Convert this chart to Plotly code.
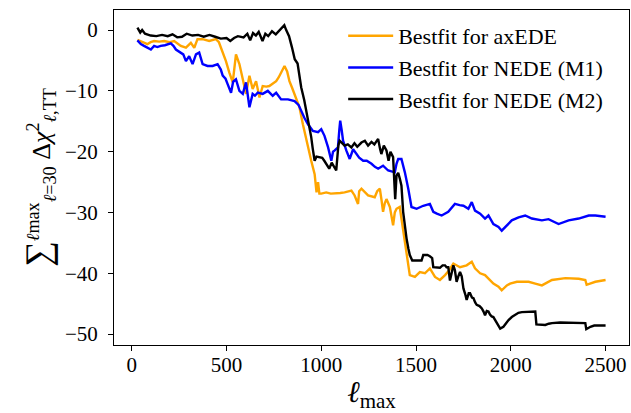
import plotly.graph_objects as go

# ---- data ----
l_m2 = [30, 45, 55, 70, 100, 130, 160, 190, 215, 240, 265, 290, 320, 350, 380, 410, 440, 470, 500, 520,
        540, 560, 590, 610, 625, 640, 655, 670, 690, 705, 720, 740, 760, 780, 795, 805, 815, 830, 845, 860,
        875, 894, 910, 921, 935, 947, 955, 965, 975, 990, 1005, 1016, 1030, 1042, 1055, 1063, 1079, 1090, 1097, 1110,
        1123, 1140, 1159, 1175, 1190, 1212, 1230, 1247, 1265, 1280, 1300, 1310, 1317, 1330, 1344, 1355, 1365, 1379, 1385, 1390,
        1397, 1406, 1415, 1423, 1432, 1441, 1450, 1460, 1467, 1480, 1494, 1515, 1529, 1538, 1560, 1573, 1585, 1591, 1610, 1626,
        1640, 1653, 1661, 1670, 1679, 1690, 1697, 1705, 1714, 1723, 1732, 1741, 1750, 1760, 1767, 1778, 1785, 1795, 1803, 1812,
        1820, 1835, 1847, 1856, 1864, 1873, 1882, 1890, 1899, 1908, 1917, 1930, 1944, 1961, 1975, 1988, 2005, 2023, 2040, 2058,
        2090, 2129, 2135, 2160, 2182, 2200, 2217, 2260, 2305, 2350, 2393, 2398, 2420, 2440, 2500]
chi_m2 = [0.4, -0.4, 0.0, -0.6, -0.9, -1.0, -0.8, -1.0, -0.7, -1.2, -1.1, -0.6, -0.9, -0.8, -1.1, -0.8, -1.1, -1.4, -1.3, -1.8,
          -1.3, -1.0, -1.2, -0.6, -1.7, -0.5, -0.9, -0.3, -1.8, -0.6, -1.0, -0.2, -0.7, 0.0, 0.5, 0.8, 0.0, -1.0, -2.8, -4.8,
          -5.5, -9.4, -11.5, -13.3, -15.5, -17.6, -19.5, -21.5, -20.8, -20.9, -21.0, -21.5, -22.3, -22.8, -21.8, -22.3, -23.1, -19.0, -18.2, -18.6,
          -19.0, -18.8, -19.3, -18.6, -19.2, -18.5, -18.2, -19.0, -18.4, -18.8, -17.9, -19.5, -20.4, -19.0, -19.8, -21.5, -20.0, -20.9, -25.0, -27.8,
          -23.9, -23.5, -24.5, -25.6, -29.9, -32.5, -34.3, -36.0, -37.0, -37.9, -37.9, -37.9, -37.9, -37.0, -37.0, -37.2, -37.5, -39.0, -39.1, -39.1,
          -38.7, -38.7, -39.0, -39.0, -41.2, -39.5, -38.7, -39.5, -41.4, -40.5, -39.8, -40.5, -42.5, -43.5, -44.4, -43.3, -43.3, -44.0, -44.1, -44.8,
          -45.2, -45.4, -45.8, -46.3, -46.9, -46.2, -46.3, -46.8, -47.1, -47.2, -47.7, -48.5, -49.1, -48.8, -48.2, -47.7, -47.2, -46.9, -46.5, -46.4,
          -46.3, -46.3, -48.4, -48.5, -48.5, -48.3, -48.2, -48.1, -48.1, -48.2, -48.2, -49.2, -48.8, -48.6, -48.6]

l_m1 = [30, 48, 65, 83, 101, 118, 135, 153, 175, 206, 220, 233, 259, 272, 286, 303, 321, 339, 356, 374,
        400, 427, 453, 470, 480, 495, 506, 524, 535, 550, 568, 586, 603, 621, 638, 650, 665, 691, 718, 744,
        762, 788, 824, 859, 880, 894, 912, 930, 956, 983, 1000, 1017, 1036, 1053, 1062, 1071, 1088, 1095, 1100, 1108,
        1115, 1132, 1150, 1168, 1185, 1200, 1221, 1240, 1265, 1283, 1300, 1326, 1353, 1388, 1397, 1406, 1423, 1441, 1459, 1476,
        1503, 1538, 1573, 1591, 1610, 1635, 1670, 1705, 1730, 1750, 1776, 1794, 1811, 1838, 1864, 1882, 1908, 1935, 1952, 1970,
        2005, 2041, 2076, 2111, 2164, 2199, 2252, 2305, 2358, 2411, 2446, 2500]
chi_m1 = [-1.7, -2.3, -2.6, -2.9, -3.2, -2.6, -2.8, -2.6, -2.5, -2.2, -2.6, -3.2, -3.7, -4.0, -5.1, -4.3, -5.6, -4.0, -3.7, -5.6,
          -5.9, -5.9, -5.6, -6.5, -7.5, -8.0, -8.9, -10.3, -8.5, -8.1, -10.0, -10.5, -8.6, -12.7, -10.5, -10.8, -10.3, -10.5, -10.0, -10.8,
          -10.3, -11.4, -11.4, -11.7, -12.3, -13.3, -14.5, -15.5, -16.6, -16.8, -16.3, -17.4, -19.3, -21.5, -20.0, -19.8, -19.3, -16.5, -14.9, -16.5,
          -18.2, -19.8, -21.2, -19.6, -20.4, -21.0, -21.5, -21.5, -22.0, -22.5, -22.8, -22.3, -23.1, -23.4, -22.0, -21.2, -21.2, -23.4, -26.1, -29.1,
          -29.4, -28.9, -28.6, -29.9, -30.2, -30.5, -29.9, -28.6, -28.8, -28.9, -29.4, -28.3, -29.7, -30.2, -31.0, -30.5, -31.9, -32.4, -33.0, -32.4,
          -31.3, -30.8, -30.5, -31.0, -31.3, -31.1, -31.9, -31.3, -31.0, -30.5, -30.5, -30.7]

l_ax = [30, 48, 65, 83, 100, 118, 145, 171, 200, 224, 259, 286, 312, 330, 347, 374, 409, 444, 460, 471,
        485, 497, 515, 533, 550, 568, 586, 603, 621, 638, 656, 674, 691, 710, 726, 745, 762, 775, 788, 806,
        820, 832, 845, 859, 872, 885, 903, 921, 935, 947, 965, 975, 983, 990, 1000, 1026, 1050, 1071, 1100, 1123,
        1140, 1159, 1176, 1194, 1200, 1212, 1247, 1282, 1295, 1309, 1318, 1326, 1335, 1344, 1362, 1379, 1388, 1397, 1414, 1432,
        1450, 1467, 1494, 1520, 1547, 1573, 1600, 1626, 1653, 1675, 1697, 1732, 1767, 1794, 1811, 1838, 1864, 1882, 1908, 1935,
        1952, 1979, 1996, 2032, 2094, 2129, 2164, 2217, 2288, 2358, 2393, 2400, 2446, 2500]
chi_ax = [-1.6, -1.8, -2.1, -2.3, -2.0, -1.8, -1.9, -1.8, -2.0, -1.8, -2.6, -2.9, -2.1, -2.9, -1.5, -1.5, -1.8, -1.5, -2.0, -2.9,
          -3.8, -5.1, -7.0, -8.6, -4.0, -5.6, -8.1, -10.5, -7.5, -9.7, -8.4, -11.1, -9.2, -9.3, -9.2, -8.8, -8.4, -7.8, -7.0, -5.9,
          -6.8, -8.4, -9.4, -10.5, -11.5, -12.7, -15.5, -18.2, -20.0, -21.5, -23.7, -26.7, -25.0, -26.9, -26.9, -26.7, -26.9, -26.9, -26.8, -26.7,
          -26.5, -26.4, -27.2, -28.6, -26.5, -26.1, -27.2, -27.5, -26.5, -26.1, -28.0, -29.9, -28.5, -27.8, -29.1, -32.1, -30.0, -29.4, -29.1, -33.2,
          -37.0, -40.3, -40.6, -39.8, -40.0, -39.2, -40.6, -41.1, -40.3, -39.5, -38.4, -39.0, -38.7, -38.1, -39.2, -40.0, -40.3, -40.9, -41.7, -42.2,
          -42.8, -42.0, -41.7, -41.4, -41.4, -41.7, -42.0, -41.1, -40.8, -40.9, -41.1, -41.9, -41.4, -41.1]

x_ticks = [0, 500, 1000, 1500, 2000, 2500]
y_ticks = [-50, -40, -30, -20, -10, 0]

names = ["Bestfit for axEDE", "Bestfit for NEDE (M1)", "Bestfit for NEDE (M2)"]
colors = ["#FFA500", "#0000FF", "#000000"]

SERIF = "Liberation Serif, Times New Roman, serif"

fig = go.Figure()
for xs, ys, nm, c in [(l_ax, chi_ax, names[0], colors[0]),
                      (l_m1, chi_m1, names[1], colors[1]),
                      (l_m2, chi_m2, names[2], colors[2])]:
    fig.add_trace(go.Scatter(x=xs, y=ys, mode="lines", name=nm,
                             line=dict(color=c, width=2.4)))

axis_common = dict(showgrid=False, zeroline=False, showline=True, linecolor="#000000",
                   linewidth=1, mirror=True, ticks="outside", ticklen=5, tickwidth=1,
                   tickcolor="#000000", automargin=False,
                   tickfont=dict(family=SERIF, size=21, color="#000000"))

fig.update_xaxes(range=[-93.5, 2623.5], tickvals=x_ticks, ticklabelstandoff=-4,
                 title=dict(text="<i>ℓ</i><sub>max</sub>", font=dict(family=SERIF, size=30, color="#000000"),
                            standoff=0),
                 **axis_common)
fig.update_yaxes(range=[-51.8, 3.3], tickvals=y_ticks, ticklabelstandoff=6,
                 title=dict(text="<span style=\"font-size:36px\">∑</span><sup><i>ℓ</i>max</sup><sub><i>ℓ</i>=30</sub> Δ<i>χ</i><sup>2</sup><sub><i>ℓ</i>,TT</sub>",
                            font=dict(family=SERIF, size=26, color="#000000"), standoff=6),
                 **axis_common)

fig.update_layout(
    template="none",
    width=631, height=413,
    margin=dict(l=114, r=2, t=10, b=68, autoexpand=False),
    plot_bgcolor="white", paper_bgcolor="white",
    legend=dict(x=0.445, y=0.985, xanchor="left", yanchor="top",
                font=dict(family=SERIF, size=22, color="#000000"),
                bgcolor="rgba(255,255,255,0)", borderwidth=0,
                itemwidth=45, tracegroupgap=0),
    showlegend=True,
)

fig.write_html("out.html", config={"displayModeBar": False},
               post_script="document.body.style.margin='0';")
